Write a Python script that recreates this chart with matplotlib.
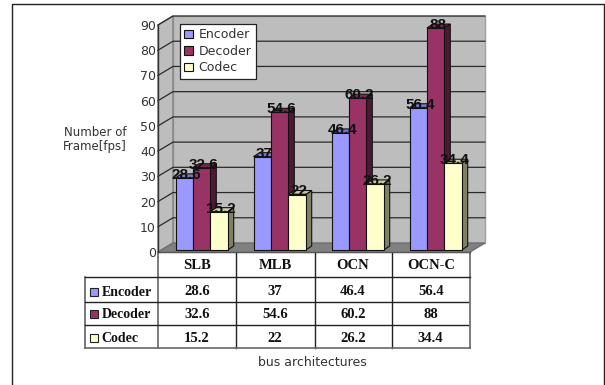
import matplotlib
matplotlib.use('Agg')
import matplotlib.pyplot as plt
from matplotlib.patches import Polygon

categories = ['SLB', 'MLB', 'OCN', 'OCN-C']
encoder = [28.6, 37, 46.4, 56.4]
decoder = [32.6, 54.6, 60.2, 88]
codec = [15.2, 22, 26.2, 34.4]
series_names = ['Encoder', 'Decoder', 'Codec']
yticks = [0, 10, 20, 30, 40, 50, 60, 70, 80, 90]

series = [encoder, decoder, codec]
face = ['#9999ff', '#993366', '#ffffcc']
top = ['#7a7acc', '#7a2952', '#cccca3']
side = ['#6c6cb4', '#4d1a33', '#808066']

PX_X = 78.0    # pixels per category
PX_Y = 2.52    # pixels per fps
DEPTH_X = 15 / PX_X
DEPTH_Y = 9 / PX_Y
BAR_W = 17.4 / PX_X
BAR_DX = 6 / PX_X
BAR_DY = 4 / PX_Y
BAR_X0 = 4.6 / PX_X
BAR_Y0 = 2 / PX_Y
W, H = 605, 385

fig = plt.figure(figsize=(W / 100, H / 100), dpi=100)

# overlay in pixel coordinates, for the frame and the table rules
bg = fig.add_axes([0, 0, 1, 1])
bg.set_xlim(0, W)
bg.set_ylim(H, 0)
bg.axis('off')
bg.plot([11.5, 11.5, 604, 604], [385, 4, 4, 385], color='#222222', lw=1)

ax = fig.add_axes([158 / W, 1 - 252 / H, 312 / W, 227 / H])
ax.set_xlim(-0.5, 3.5)
ax.set_ylim(0, 90)
ax.patch.set_alpha(0)
for s in ax.spines.values():
    s.set_visible(False)

x0, x1 = -0.5, 3.5
# walls and floor
ax.add_patch(Polygon([(x0 + DEPTH_X, DEPTH_Y), (x1 + DEPTH_X, DEPTH_Y), (x1 + DEPTH_X, 90 + DEPTH_Y),
                      (x0 + DEPTH_X, 90 + DEPTH_Y)], fc='#bdbdbd', ec='#a0a0a0', lw=1, clip_on=False))
ax.add_patch(Polygon([(x0, 0), (x0 + DEPTH_X, DEPTH_Y), (x0 + DEPTH_X, 90 + DEPTH_Y), (x0, 90)],
                     fc='#bdbdbd', ec='#808080', lw=1, clip_on=False))
ax.add_patch(Polygon([(x0, 0), (x1, 0), (x1 + DEPTH_X, DEPTH_Y), (x0 + DEPTH_X, DEPTH_Y)],
                     fc='#808080', ec='#707070', lw=1, clip_on=False))
for v in yticks[1:]:
    ax.plot([x0, x0 + DEPTH_X, x1 + DEPTH_X], [v, v + DEPTH_Y, v + DEPTH_Y], color='#2a2a2a', lw=0.9,
            clip_on=False, zorder=1.5)
ax.plot([x0, x0], [0, 90], color='#333333', lw=1, clip_on=False, zorder=1.6)

# bars, drawn left to right so each front covers the side before it
for i, name in enumerate(series_names):
    vals = series[i]
    for c, v in enumerate(vals):
        left = c - 1.5 * BAR_W + i * BAR_W + BAR_X0
        right = left + BAR_W
        b = BAR_Y0
        ax.add_patch(Polygon([(right, b), (right + BAR_DX, b + BAR_DY), (right + BAR_DX, v + b + BAR_DY),
                              (right, v + b)], fc=side[i], ec='#111111', lw=0.8, clip_on=False, zorder=2 + i))
        ax.add_patch(Polygon([(left, v + b), (right, v + b), (right + BAR_DX, v + b + BAR_DY),
                              (left + BAR_DX, v + b + BAR_DY)], fc=top[i], ec='#111111', lw=0.8, clip_on=False,
                             zorder=2 + i))
    ax.bar([c - BAR_W + i * BAR_W + BAR_X0 for c in range(4)], vals, BAR_W, bottom=BAR_Y0, color=face[i],
           edgecolor='#111111', lw=0.8, label=name, zorder=2.5 + i, clip_on=False)

# data labels
for i in range(3):
    for c, v in enumerate(series[i]):
        ax.text(c - BAR_W + i * BAR_W + BAR_X0 + 2 / PX_X, v + BAR_Y0 + 1.2, str(v), ha='center', va='center',
                fontsize=11, fontweight='bold', family='Liberation Sans', color='#111111', zorder=10, clip_on=False)

ax.set_xticks([])
ax.set_yticks(yticks)
ax.tick_params(axis='y', length=0, pad=1.5, labelsize=9, labelcolor='#333333')
for t in ax.get_yticklabels():
    t.set_family('DejaVu Sans')

leg = ax.legend(loc='upper left', bbox_to_anchor=((180 - 158) / 312, (252 - 24) / 227), borderaxespad=0,
                fontsize=9, frameon=True, fancybox=False, framealpha=1, edgecolor='#222222',
                handlelength=0.72, handleheight=0.72, handletextpad=0.4, labelspacing=0.28, borderpad=0.35,
                labelcolor='#333333')
leg.set_zorder(20)
leg.get_frame().set_linewidth(0.9)

# data table below the chart
col_x = [158, 236, 314.5, 391.5, 470]
row_y = [252, 277, 301.5, 325, 347.5]
row_text_y = [291.7, 314.3, 338.3]
for xv in col_x[1:-1]:
    bg.plot([xv, xv], [252, 347.5], color='#222222', lw=1)
for xv in [col_x[0], col_x[-1]]:
    bg.plot([xv, xv], [252, 347.5], color='#666666', lw=1.2)
bg.plot([84.5, 84.5], [277, 347.5], color='#555555', lw=1.1)
bg.plot([158, 470], [252, 252], color='#222222', lw=1)
bg.plot([84.5, 470], [277, 277], color='#222222', lw=1)
bg.plot([84.5, 468], [301.5, 301.5], color='#222222', lw=1)
bg.plot([84.5, 468], [325, 325], color='#222222', lw=1)
bg.plot([84.5, 470], [347.5, 347.5], color='#666666', lw=1.2)

serif = dict(family='Liberation Serif', fontweight='bold', fontsize=10.5, color='#111111', ha='center', va='center')
for c, name in enumerate(categories):
    cx = (col_x[c] + col_x[c + 1]) / 2
    bg.text(cx, 265.7, name, **serif)
    for r in range(3):
        bg.text(cx, row_text_y[r], str(series[r][c]), **serif)
for r, name in enumerate(series_names):
    cy = row_text_y[r]
    bg.add_patch(plt.Rectangle((89.5, cy - 4), 8.5, 8, fc=face[r], ec='#222222', lw=0.8))
    bg.text(101.5, cy + 0.7, name, **{**serif, 'ha': 'left', 'fontsize': 10})

bg.text(95, 139.5, 'Number of\nFrame[fps]', ha='center', va='center', fontsize=8.5, color='#333333',
        family='DejaVu Sans', linespacing=1.15)
bg.text(312, 362.5, 'bus architectures', ha='center', va='center', fontsize=9, color='#333333',
        family='DejaVu Sans')

fig.savefig('out.png', dpi=100)
